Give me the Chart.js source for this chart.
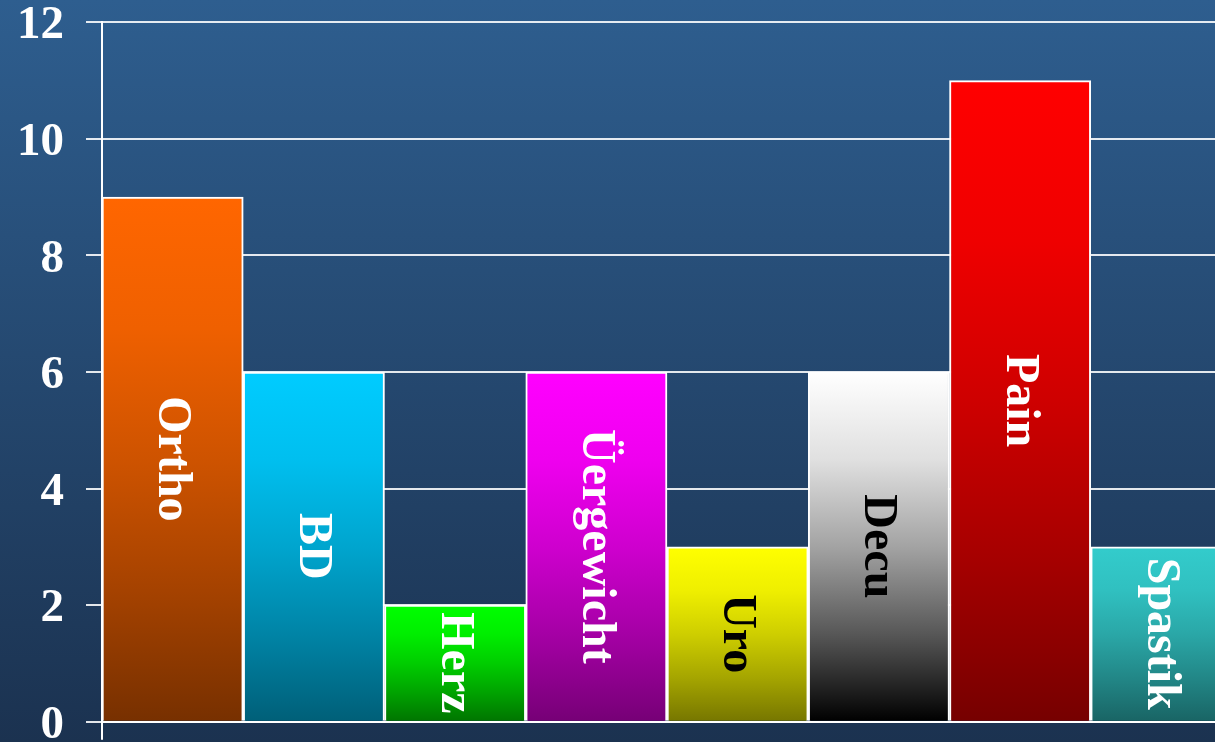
<!DOCTYPE html>
<html lang="de">
<head>
<meta charset="UTF-8">
<title>Balkendiagramm</title>
<script src="https://cdn.jsdelivr.net/npm/chart.js@4.4.1/dist/chart.umd.min.js"></script>
<style>
  html, body { margin: 0; padding: 0; overflow: hidden; }
  body { width: 1215px; height: 742px; background: linear-gradient(#2e5e8f, #1b3250); }
  .wrap { width: 1232px; height: 788px; position: absolute; left: 0; top: -22px; }
</style>
</head>
<body>
<div class="wrap"><canvas id="chart"></canvas></div>
<script>
  // Daten
  const categories = ['Ortho', 'BD', 'Herz', 'Üergewicht', 'Uro', 'Decu', 'Pain', 'Spastik'];
  const values = [9, 6, 2, 6, 3, 6, 11, 3];
  const topColors = ['#ff6600', '#00ccff', '#00ff00', '#ff00ff', '#ffff00', '#ffffff', '#ff0000', '#33cccc'];
  const bottomColors = ['#773000', '#005f78', '#007400', '#760076', '#767600', '#000000', '#760000', '#196464'];
  const labelColors = ['#fff', '#fff', '#fff', '#fff', '#000', '#000', '#fff', '#fff'];
  const yTicks = [0, 2, 4, 6, 8, 10, 12];

  function hex(c) {
    return [1, 3, 5].map(i => parseInt(c.substr(i, 2), 16));
  }
  function mix(a, b, t) {
    const x = hex(a), y = hex(b);
    return 'rgb(' + x.map((v, i) => Math.round(v + (y[i] - v) * t)).join(',') + ')';
  }

  function barFill(ctx) {
    const chart = ctx.chart;
    const i = ctx.dataIndex;
    const y = chart.scales.y;
    if (!chart.chartArea || !y) return topColors[i];
    const top = y.getPixelForValue(values[i]);
    const bot = y.getPixelForValue(0);
    const g = chart.ctx.createLinearGradient(0, top, 0, bot);
    [[0, 0], [0.25, 0.12], [0.5, 0.36], [0.75, 0.66], [1, 1]].forEach(s => {
      g.addColorStop(s[0], mix(topColors[i], bottomColors[i], s[1]));
    });
    return g;
  }

  // Beschriftung in den Balken, gedreht
  const barLabels = {
    id: 'barLabels',
    afterDatasetsDraw(chart) {
      const c = chart.ctx;
      chart.getDatasetMeta(0).data.forEach((bar, i) => {
        const mid = (bar.y + bar.base) / 2;
        c.save();
        c.translate(bar.x - 1, mid);
        c.rotate(Math.PI / 2);
        c.font = 'bold 48px "Liberation Serif", "Times New Roman", serif';
        c.fillStyle = labelColors[i];
        c.textAlign = 'center';
        c.textBaseline = 'middle';
        c.fillText(categories[i], 0, 0);
        c.restore();
      });
    }
  };

  new Chart(document.getElementById('chart'), {
    type: 'bar',
    data: {
      labels: categories,
      datasets: [{
        data: values,
        backgroundColor: barFill,
        borderColor: '#ffffff',
        borderWidth: 2,
        borderSkipped: 'start',
        barPercentage: 1,
        categoryPercentage: 1
      }]
    },
    options: {
      responsive: true,
      maintainAspectRatio: false,
      animation: false,
      layout: { padding: 0 },
      plugins: { legend: { display: false }, tooltip: { enabled: false } },
      scales: {
        x: {
          ticks: { display: false },
          grid: {
            display: true,
            drawOnChartArea: false,
            tickLength: 18,
            lineWidth: 2,
            color: ctx => ctx.index === 0 ? '#ffffff' : 'rgba(0,0,0,0)'
          },
          border: { color: '#ffffff', width: 2 },
          afterFit: s => { s.height = 24; }
        },
        y: {
          min: 0,
          max: 12,
          afterBuildTicks: s => { s.ticks = yTicks.map(v => ({ value: v })); },
          ticks: {
            color: '#ffffff',
            padding: 22,
            labelOffset: 4,
            font: { family: '"Liberation Serif", "Times New Roman", serif', size: 47, weight: 'bold', lineHeight: 0.95 }
          },
          grid: { color: 'rgba(255,255,255,0.88)', lineWidth: 2, tickLength: 16 },
          border: { color: '#ffffff', width: 2 },
          afterFit: s => { s.width = 102; }
        }
      }
    },
    plugins: [barLabels]
  });
</script>
</body>
</html>
